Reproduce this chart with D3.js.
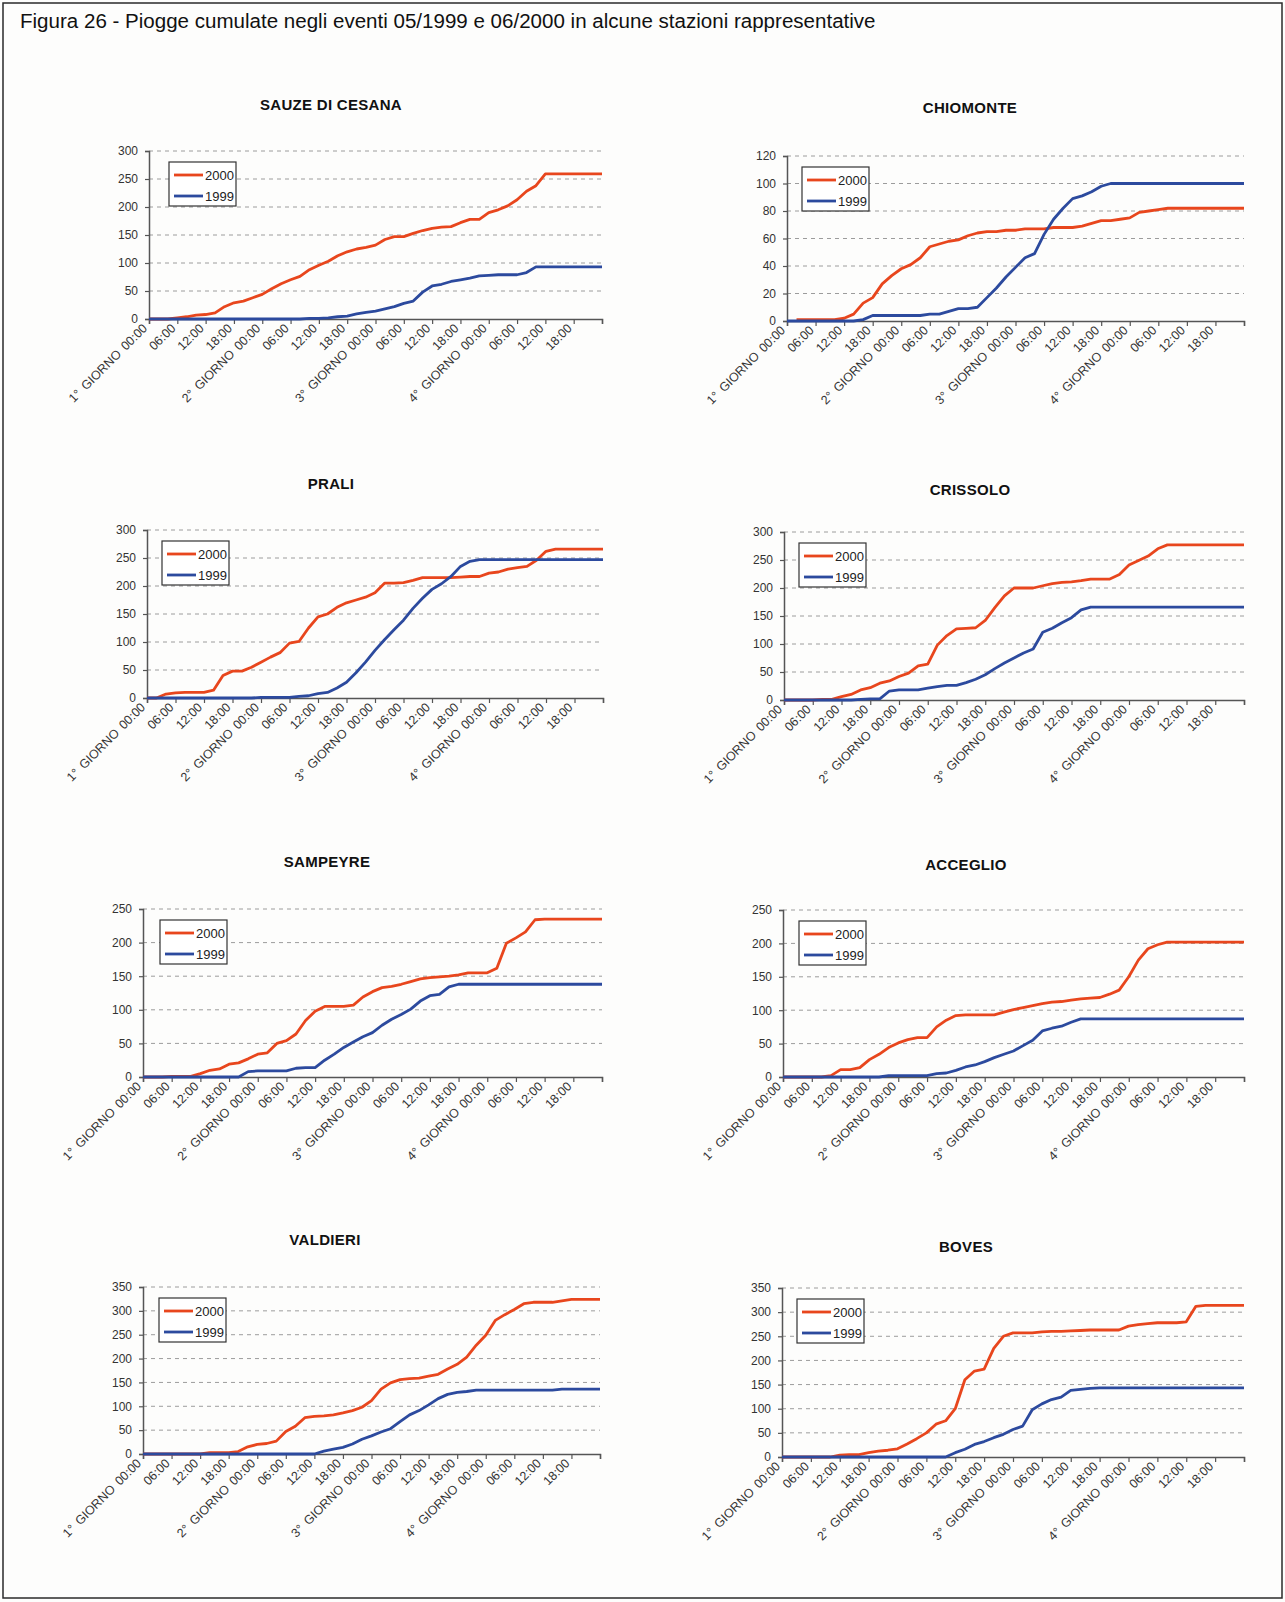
<!DOCTYPE html>
<html><head><meta charset="utf-8">
<script src="https://cdn.jsdelivr.net/npm/d3@7"></script>
<style>
html,body{margin:0;padding:0;background:#fff;}
svg{display:block;font-family:"Liberation Sans",Arial,Helvetica,sans-serif;}
</style></head><body>
<svg id="page" width="1285" height="1602"></svg>
<script>
// Hours since the start of each event (2-hour sampling), 4 days
const hours = d3.range(0, 97, 2);
const tickHours = d3.range(0, 97, 6);
const tickLabels = ["1° GIORNO 00:00","06:00","12:00","18:00","2° GIORNO 00:00","06:00","12:00","18:00",
  "3° GIORNO 00:00","06:00","12:00","18:00","4° GIORNO 00:00","06:00","12:00","18:00"];

const stationNames = ["SAUZE DI CESANA","CHIOMONTE","PRALI","CRISSOLO","SAMPEYRE","ACCEGLIO","VALDIERI","BOVES"];
const seriesNames = ["2000","1999"];
const yMax  = [300,120,300,300,250,250,350,350];
const yStep = [50,20,50,50,50,50,50,50];

// Cumulated rainfall [mm]
const sauze2000 = [0,0,0,2,4,7,8,11,22,29,32,38,44,54,63,70,76,88,96,103,113,120,125,128,132,142,147,147,153,158,162,164,165,172,178,178,190,195,202,213,228,238,259,259,259,259,259,259,259];
const sauze1999 = [0,0,0,0,0,0,0,0,0,0,0,0,0,0,0,0,0,1,1,2,4,5,9,12,14,18,22,28,32,48,59,62,67,70,73,77,78,79,79,79,83,93,93,93,93,93,93,93,93];
const chiomonte2000 = [null,1,1,1,1,1,2,5,13,17,27,33,38,41,46,54,56,58,59,62,64,65,65,66,66,67,67,67,68,68,68,69,71,73,73,74,75,79,80,81,82,82,82,82,82,82,82,82,82];
const chiomonte1999 = [0,0,0,0,0,0,0,0,1,4,4,4,4,4,4,5,5,7,9,9,10,17,24,32,39,46,49,63,74,82,89,91,94,98,100,100,100,100,100,100,100,100,100,100,100,100,100,100,100];
const prali2000 = [0,0,7,9,10,10,10,14,40,48,48,55,64,73,81,98,101,125,145,150,162,170,175,180,188,205,205,206,210,215,215,215,215,216,217,217,223,225,230,233,235,246,262,266,266,266,266,266,266];
const prali1999 = [0,0,0,0,0,0,0,0,0,0,0,0,1,1,1,1,3,4,8,10,18,28,45,64,85,104,122,139,160,178,194,204,217,235,244,247,247,247,247,247,247,247,247,247,247,247,247,247,247];
const crissolo2000 = [0,0,0,0,1,1,6,10,18,22,30,34,42,48,61,64,98,115,127,128,129,142,165,186,200,200,200,204,208,210,211,213,216,216,216,224,241,249,257,270,277,277,277,277,277,277,277,277,277];
const crissolo1999 = [0,0,0,0,0,0,0,0,1,2,2,16,18,18,18,21,24,26,26,31,37,45,56,66,75,84,91,121,128,138,147,161,166,166,166,166,166,166,166,166,166,166,166,166,166,166,166,166,166];
const sampeyre2000 = [0,0,0,1,1,1,5,10,12,19,21,27,34,36,50,54,64,84,98,105,105,105,107,119,127,133,135,138,142,146,148,149,150,152,155,155,155,162,199,207,216,234,235,235,235,235,235,235,235];
const sampeyre1999 = [0,0,0,0,0,0,0,0,0,0,0,8,9,9,9,9,13,14,14,25,34,44,52,60,66,77,86,93,101,113,121,123,134,138,138,138,138,138,138,138,138,138,138,138,138,138,138,138,138];
const acceglio2000 = [0,0,0,0,0,2,11,11,14,26,34,44,51,56,59,59,75,85,92,93,93,93,93,97,101,104,107,110,112,113,115,117,118,119,124,130,150,175,192,198,202,202,202,202,202,202,202,202,202];
const acceglio1999 = [0,0,0,0,0,0,0,0,0,0,0,2,2,2,2,2,5,6,10,15,18,23,29,34,39,47,55,69,73,76,82,87,87,87,87,87,87,87,87,87,87,87,87,87,87,87,87,87,87];
const valdieri2000 = [0,0,0,0,0,0,0,3,3,3,5,15,20,22,27,47,58,76,79,80,82,86,91,98,112,136,149,156,158,159,163,167,178,188,203,228,249,280,292,303,315,318,318,318,321,324,324,324,324];
const valdieri1999 = [0,0,0,0,0,0,0,0,0,0,0,0,0,0,0,0,0,0,0,6,10,14,21,31,38,46,53,68,82,91,103,116,125,129,131,134,134,134,134,134,134,134,134,134,136,136,136,136,136];
const boves2000 = [0,0,0,0,0,0,4,5,5,9,12,14,17,27,38,50,68,75,100,160,178,182,225,250,257,257,257,259,260,260,261,262,263,263,263,263,271,274,276,278,278,278,280,312,314,314,314,314,314];
const boves1999 = [0,0,0,0,0,0,0,0,0,0,0,0,0,0,0,0,0,0,9,16,26,32,40,47,57,64,98,110,119,124,138,140,142,143,143,143,143,143,143,143,143,143,143,143,143,143,143,143,143];

const series2000 = [sauze2000, chiomonte2000, prali2000, crissolo2000, sampeyre2000, acceglio2000, valdieri2000, boves2000];
const series1999 = [sauze1999, chiomonte1999, prali1999, crissolo1999, sampeyre1999, acceglio1999, valdieri1999, boves1999];

// Panel geometry: plot area, title centre and legend offset for each station
const panels = [
  {x0:149, x1:602, top:151, bottom:319, tx:331, ty:110, lx:20},
  {x0:787, x1:1244, top:156, bottom:321, tx:970, ty:113, lx:15},
  {x0:147, x1:603, top:530, bottom:698, tx:331, ty:489, lx:15},
  {x0:784, x1:1244, top:532, bottom:700, tx:970, ty:495, lx:15},
  {x0:143, x1:602, top:909, bottom:1077, tx:327, ty:867, lx:17},
  {x0:783, x1:1244, top:910, bottom:1077, tx:966, ty:870, lx:16},
  {x0:143, x1:600, top:1287, bottom:1454, tx:325, ty:1245, lx:16},
  {x0:782, x1:1244, top:1288, bottom:1457, tx:966, ty:1252, lx:15}
];
const colors = {"2000":"#e8461d", "1999":"#2c4a9e"};

const svg = d3.select("#page");
svg.append("rect").attr("width",1285).attr("height",1602).attr("fill","#fdfdfc");

// frame and caption
svg.append("rect").attr("x",3).attr("y",3).attr("width",1279).attr("height",1595)
  .attr("fill","none").attr("stroke","#2a2a2a").attr("stroke-width",1.5);
const caption = svg.append("text").attr("x",20).attr("y",28).attr("font-size",17).attr("fill","#111")
  .text("Figura 26 - Piogge cumulate negli eventi 05/1999 e 06/2000 in alcune stazioni rappresentative");
const cw = caption.node().getComputedTextLength();
caption.attr("font-size", 17 * 856 / cw);

stationNames.forEach((name, i) => {
  const p = panels[i];
  const g = svg.append("g");
  const x = d3.scaleLinear().domain([0, 96]).range([p.x0, p.x1]);
  const y = d3.scaleLinear().domain([0, yMax[i]]).range([p.bottom, p.top]);
  const yTicks = d3.range(0, yMax[i] + 1, yStep[i]);

  // dashed gridlines
  g.append("g").selectAll("line").data(yTicks.slice(1)).join("line")
    .attr("x1", p.x0).attr("x2", p.x1).attr("y1", d => y(d)).attr("y2", d => y(d))
    .attr("stroke", "#9c9c9c").attr("stroke-width", 1).attr("stroke-dasharray", "4 4");

  // y axis
  const ya = g.append("g").attr("transform", `translate(${p.x0},0)`)
    .call(d3.axisLeft(y).tickValues(yTicks).tickSize(4).tickPadding(7).tickFormat(d3.format("d")));
  ya.select(".domain").attr("stroke", "#555").attr("stroke-width", 1.5);
  ya.selectAll(".tick line").attr("stroke", "#555").attr("stroke-width", 1.2);
  ya.selectAll("text").attr("font-size", 12).attr("fill", "#333").attr("font-family", null);

  // x axis
  const xa = g.append("g").attr("transform", `translate(0,${p.bottom})`)
    .call(d3.axisBottom(x).tickValues(tickHours).tickSize(5).tickFormat(""));
  xa.select(".domain").attr("stroke", "#555").attr("stroke-width", 1.5);
  xa.selectAll(".tick line").attr("stroke", "#555").attr("stroke-width", 1.2);
  g.append("g").selectAll("text").data(tickLabels).join("text")
    .attr("transform", (d, k) => `translate(${x(tickHours[k]) - 1},${p.bottom + 10}) rotate(-45)`)
    .attr("text-anchor", "end").attr("font-size", 12.5).attr("word-spacing", 2).attr("fill", "#333")
    .text(d => d);

  // title
  g.append("text").attr("x", p.tx).attr("y", p.ty).attr("text-anchor", "middle")
    .attr("font-size", 15).attr("font-weight", "bold").attr("letter-spacing", 0.3)
    .attr("fill", "#111").text(name);

  // lines: 2000 below, 1999 on top
  const line = d3.line().defined(d => d[1] !== null).x(d => x(d[0])).y(d => y(d[1]));
  [["2000", series2000[i]], ["1999", series1999[i]]].forEach(([s, vals]) => {
    g.append("path").datum(hours.map((h, k) => [h, vals[k]]))
      .attr("d", line).attr("fill", "none").attr("stroke", colors[s])
      .attr("stroke-width", 2.8).attr("stroke-linejoin", "round");
  });

  // legend
  const bx = p.x0 + p.lx, by = p.top + 11;
  const lg = g.append("g").attr("transform", `translate(${bx},${by})`);
  lg.append("rect").attr("width", 67).attr("height", 44).attr("fill", "#fff")
    .attr("stroke", "#333").attr("stroke-width", 1.2);
  seriesNames.forEach((s, k) => {
    lg.append("line").attr("x1", 5).attr("x2", 34).attr("y1", 13 + k * 21).attr("y2", 13 + k * 21)
      .attr("stroke", colors[s]).attr("stroke-width", 2.8);
    lg.append("text").attr("x", 36).attr("y", 17.5 + k * 21).attr("font-size", 13).attr("fill", "#222").text(s);
  });
});
</script>
</body></html>
